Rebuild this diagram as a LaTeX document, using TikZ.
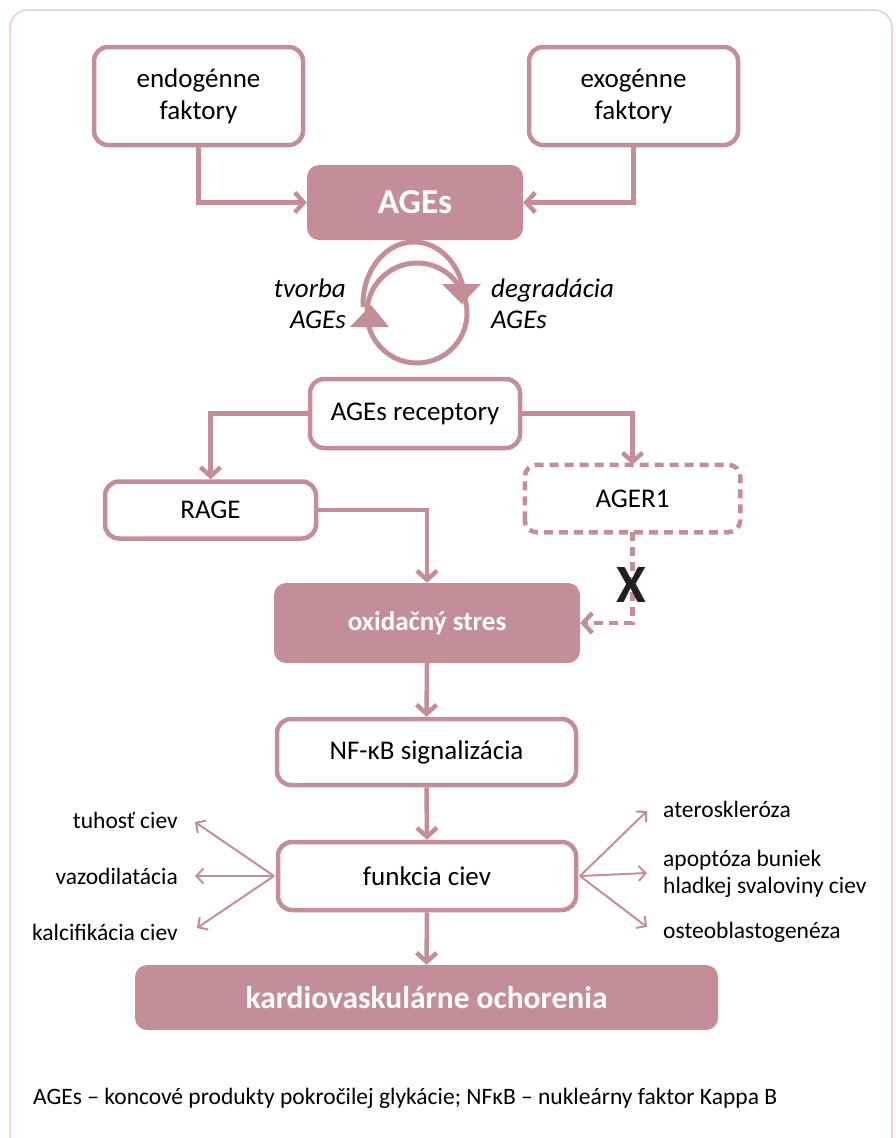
\documentclass[tikz,border=0pt]{standalone}
\usepackage{fontspec}
\setmainfont{Carlito}
\usetikzlibrary{arrows.meta}
\definecolor{boxcol}{RGB}{196,142,152}
\definecolor{framecol}{RGB}{232,205,214}
\definecolor{xcol}{RGB}{35,31,32}
\newcommand{\myfs}[2]{\fontsize{#1}{#2}\selectfont}
\begin{document}
\begin{tikzpicture}[x=1pt,y=-1pt,
  wbox/.style={draw=boxcol, line width=4.5pt, rounded corners=14pt, fill=white, inner sep=0pt, align=center, font=\myfs{27}{32}},
  fbox/.style={fill=boxcol, rounded corners=12pt, inner sep=0pt, text=white, align=center},
  conn/.style={draw=boxcol, line width=4.5pt, -{Straight Barb[length=9pt,width=20pt]}},
  dconn/.style={draw=boxcol, line width=4.5pt, dash pattern=on 9pt off 6pt, -{Straight Barb[length=9pt,width=20pt]}},
  sidearr/.style={draw=boxcol, line width=2pt, -{Straight Barb[length=7pt,width=15pt]}},
  sidelab/.style={font=\myfs{23.5}{27}, inner sep=0pt},
  circlab/.style={font=\myfs{27}{31}\itshape, inner sep=0pt}
]
\useasboundingbox (0,0) rectangle (896,1138);
\clip (0,0) rectangle (896,1138);
\draw[framecol, line width=1.5pt, rounded corners=18pt] (10,1170) -- (10,10) -- (892,10) -- (892,1170);

% boxes
\node[wbox, minimum width=209pt, minimum height=98pt] (endo) at (198.5,96) {endogénne\\faktory};
\node[wbox, minimum width=209pt, minimum height=98pt] (exo) at (633.5,96) {exogénne\\faktory};
\node[fbox, minimum width=216pt, minimum height=75pt, font=\myfs{35}{40}\bfseries] (ages) at (415,202.5) {AGEs};
\node[wbox, minimum width=210pt, minimum height=69pt] (rec) at (415,413.5) {AGEs receptory};
\node[wbox, minimum width=211pt, minimum height=57pt] (rage) at (210.5,510) {RAGE};
\node[wbox, draw=none, minimum width=211pt, minimum height=63pt] (ager) at (632.5,498.5) {AGER1};
\draw[boxcol, line width=4.5pt, dash pattern=on 9pt off 6pt, rounded corners=12pt] (ager.south west) rectangle (ager.north east);
\node[fbox, minimum width=306pt, minimum height=80pt, font=\myfs{27}{31}\bfseries] (oxi) at (427,623) {oxidačný stres};
\node[wbox, minimum width=299pt, minimum height=66pt] (nfkb) at (426.5,752) {NF-κB signalizácia};
\node[wbox, minimum width=298pt, minimum height=68pt] (funk) at (427,876) {funkcia ciev};
\node[fbox, minimum width=583pt, minimum height=65pt, font=\myfs{31.5}{36}\bfseries] (kardio) at (426.5,997.5) {kardiovaskulárne ochorenia};

% circular arrows
\draw[boxcol, line width=5pt] (417,313) circle[radius=50];
\draw[boxcol, line width=5pt] (363.1,307.2) arc[start angle=177, end angle=342, x radius=51, y radius=62];
\fill[boxcol] (371,305) -- (350,327) -- (389,327) -- cycle;
\fill[boxcol] (462,304) -- (442,284) -- (481,284) -- cycle;
\node[circlab, anchor=east, align=right] (tvorba) at (346,304) {tvorba\\AGEs};
\node[circlab, anchor=west, align=left] (degr) at (491,304) {degradácia\\AGEs};

% connectors
\draw[conn] (endo.south) |- (ages.west);
\draw[conn] (exo.south) |- (ages.east);
\draw[conn] (rec.west) -| (rage.north);
\draw[conn] (rec.east) -| (ager.north);
\draw[conn] (rage.east) -| (oxi.north);
\draw[dconn] (ager.south) |- (oxi.east);
\node[font=\myfs{54}{60}\bfseries, text=xcol, inner sep=0pt] (xmark) at (631,585) {X};
\draw[conn] (oxi.south) -- (nfkb.north);
\draw[conn] (nfkb.south) -- (funk.north);
\draw[conn] (funk.south) -- (kardio.north);

% side effects
\coordinate (fl) at (274,876);
\coordinate (fr) at (580,876);
\coordinate (l1) at (195,822);
\coordinate (l2) at (195,876);
\coordinate (l3) at (197,928);
\coordinate (r1) at (647,811);
\coordinate (r2) at (647,873);
\coordinate (r3) at (647,927);
\draw[sidearr] (fl) -- (l1);
\draw[sidearr] (fl) -- (l2);
\draw[sidearr] (fl) -- (l3);
\draw[sidearr] (fr) -- (r1);
\draw[sidearr] (fr) -- (r2);
\draw[sidearr] (fr) -- (r3);
\node[sidelab, anchor=east] (tuh) at (178,820) {tuhosť ciev};
\node[sidelab, anchor=east] (vazo) at (178,876) {vazodilatácia};
\node[sidelab, anchor=east] (kalc) at (178,932) {kalcifikácia ciev};
\node[sidelab, anchor=west] (ater) at (663,809) {ateroskleróza};
\node[sidelab, anchor=west, align=left] (apop) at (663,874) {apoptóza buniek\\hladkej svaloviny ciev};
\node[sidelab, anchor=west] (osteo) at (663,932) {osteoblastogenéza};

% footer
\node[anchor=west, font=\myfs{23.5}{27}, inner sep=0pt] (foot) at (33,1098) {AGEs – koncové produkty pokročilej glykácie; NFκB – nukleárny faktor Kappa B};
\end{tikzpicture}
\end{document}
